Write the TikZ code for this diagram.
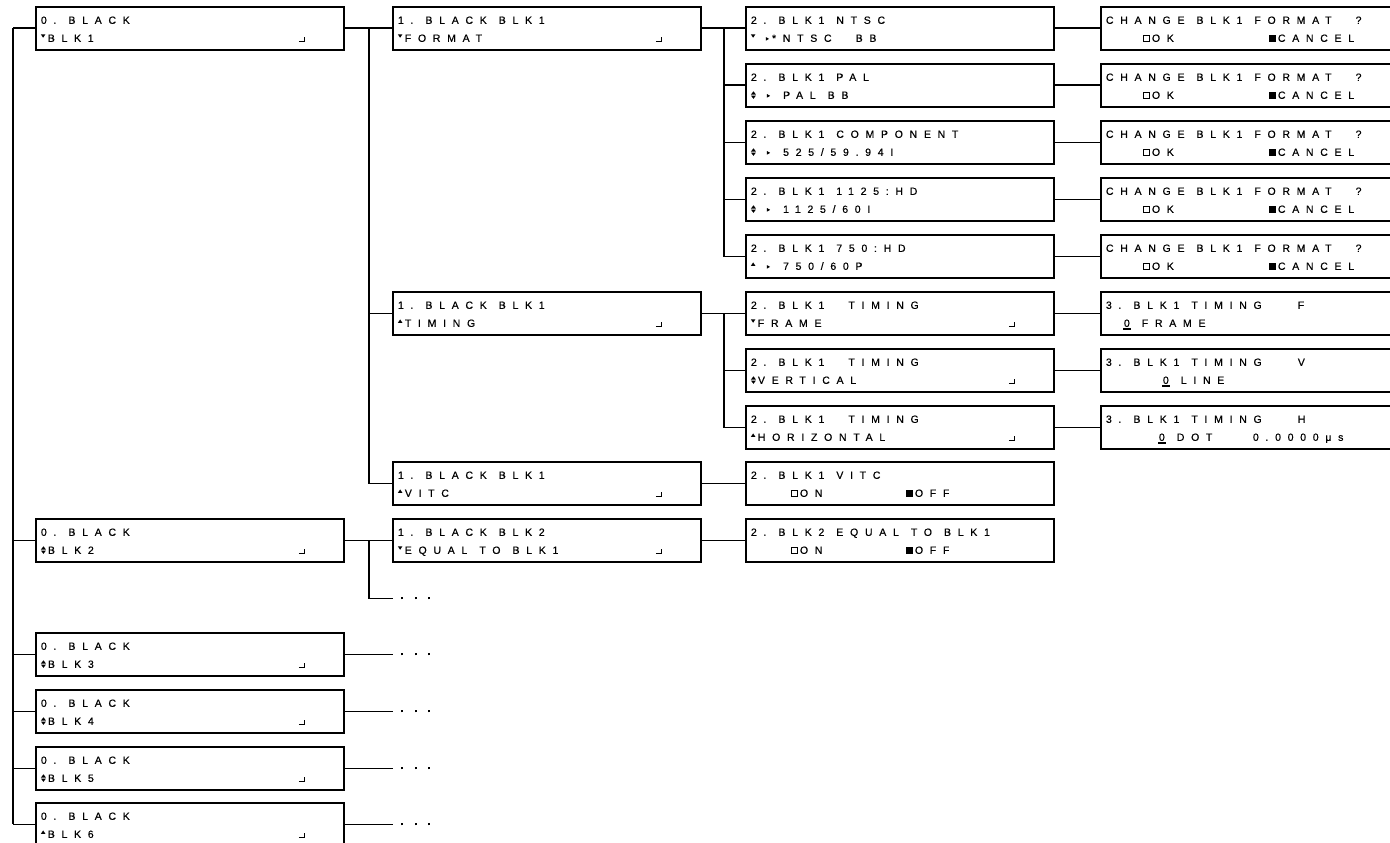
\documentclass[tikz,border=0pt]{standalone}
\usepackage{fontspec}
\setmainfont{Liberation Sans}
\newfontfamily\lcdfont[LetterSpace=64,WordSpace=1.25,FakeBold=0.5]{Liberation Sans}
\usetikzlibrary{positioning}
\frenchspacing

% small display marks
\newcommand\symdn{\tikz[baseline=0pt,x=1pt,y=1pt]{\useasboundingbox (0,0) rectangle (4.4,7.4); \fill (0,7.4) -- (4.4,7.4) -- (2.2,4.1) -- cycle;}\hspace{2.5pt}}
\newcommand\symup{\tikz[baseline=0pt,x=1pt,y=1pt]{\useasboundingbox (0,0) rectangle (4.4,7.4); \fill (0,4.1) -- (4.4,4.1) -- (2.2,7.4) -- cycle;}\hspace{2.5pt}}
\newcommand\symud{\tikz[baseline=0pt,x=1pt,y=1pt]{\useasboundingbox (0,0) rectangle (5,7.6); \fill (0,4.3) -- (5,4.3) -- (2.5,7.6) -- cycle; \fill (0,3.3) -- (5,3.3) -- (2.5,0) -- cycle;}\hspace{2pt}}
\newcommand\symrt{\tikz[baseline=0pt,x=1pt,y=1pt]{\useasboundingbox (0,0) rectangle (3.2,7); \fill (0,1.2) -- (0,4.8) -- (3.2,3) -- cycle;}}
\newcommand\boxon{\tikz[baseline=0pt,x=1pt,y=1pt]{\draw[line width=0.8pt] (0.4,0.4) rectangle (6.6,6.9);}\hspace{2pt}}
\newcommand\boxoff{\tikz[baseline=0pt,x=1pt,y=1pt]{\fill (0,0) rectangle (7,7.3);}\hspace{2pt}}
\newcommand\retmark{\rule{5pt}{1.1pt}\rule{1.1pt}{4.5pt}}
\newcommand\ulzero{\rlap{\hspace{-0.8pt}\rule[-2.8pt]{7.4pt}{1.5pt}}0}
\newcommand\entry[1]{\makebox[258pt][l]{#1}\retmark}
\newcommand\lcddots{\rule{2pt}{2pt}\hspace{11.5pt}\rule{2pt}{2pt}\hspace{11.5pt}\rule{2pt}{2pt}}
% two display lines in a 308 x 43 frame
\newcommand\lcd[2]{\vbox to 43pt{\baselineskip=18pt\lineskiplimit=-20pt\vskip 9.3pt
  \hbox to 308pt{\hskip 5pt\vrule height 7.6pt width 0pt\relax #1\hfil}
  \hbox to 308pt{\hskip 5pt\vrule height 7.6pt width 0pt\relax #2\hfil}\vss}}

\begin{document}
\begin{tikzpicture}[x=1pt,y=-1pt,
  lcdbox/.style={draw,line width=1.9pt,inner sep=0pt,anchor=north west,font=\lcdfont\fontsize{10.5}{18}\selectfont},
  conn/.style={line width=1.9pt},
  trunk/.style={line width=1.4pt},
  more/.style={inner xsep=8pt,inner ysep=0pt,anchor=west}]
  \useasboundingbox (0,0) rectangle (1390,843);
  \fill[white] (0,0) rectangle (1390,843);

  % level 0
  \node[lcdbox] (blk1) at (35,6) {\lcd{0. BLACK}{\entry{\symdn BLK1}}};
  \node[lcdbox] (blk2) at (35,518) {\lcd{0. BLACK}{\entry{\symud BLK2}}};
  \node[lcdbox] (blk3) at (35,632) {\lcd{0. BLACK}{\entry{\symud BLK3}}};
  \node[lcdbox] (blk4) at (35,689) {\lcd{0. BLACK}{\entry{\symud BLK4}}};
  \node[lcdbox] (blk5) at (35,746) {\lcd{0. BLACK}{\entry{\symud BLK5}}};
  \node[lcdbox] (blk6) at (35,802) {\lcd{0. BLACK}{\entry{\symup BLK6}}};

  % level 1
  \node[lcdbox] (fmt) at (392,6) {\lcd{1. BLACK BLK1}{\entry{\symdn FORMAT}}};
  \node[lcdbox] (tim) at (392,291) {\lcd{1. BLACK BLK1}{\entry{\symup TIMING}}};
  \node[lcdbox] (vitc) at (392,461) {\lcd{1. BLACK BLK1}{\entry{\symup VITC}}};
  \node[lcdbox] (equ) at (392,518) {\lcd{1. BLACK BLK2}{\entry{\symdn EQUAL TO BLK1}}};

  % level 2
  \node[lcdbox] (ntsc) at (745,6) {\lcd{2. BLK1 NTSC}{\symdn\hspace{8pt}\symrt\hspace{3pt}*NTSC\ \ BB}};
  \node[lcdbox] (pal) at (745,63) {\lcd{2. BLK1 PAL}{\symud\hspace{9pt}\symrt\hspace{13pt}PAL BB}};
  \node[lcdbox] (comp) at (745,120) {\lcd{2. BLK1 COMPONENT}{\symud\hspace{9pt}\symrt\hspace{13pt}525/59.94I}};
  \node[lcdbox] (hdi) at (745,177) {\lcd{2. BLK1 1125:HD}{\symud\hspace{9pt}\symrt\hspace{13pt}1125/60I}};
  \node[lcdbox] (hdp) at (745,234) {\lcd{2. BLK1 750:HD}{\symup\hspace{9pt}\symrt\hspace{13pt}750/60P}};
  \node[lcdbox] (frame) at (745,291) {\lcd{2. BLK1\ \ TIMING}{\entry{\symdn FRAME}}};
  \node[lcdbox] (vert) at (745,348) {\lcd{2. BLK1\ \ TIMING}{\entry{\symud VERTICAL}}};
  \node[lcdbox] (horiz) at (745,405) {\lcd{2. BLK1\ \ TIMING}{\entry{\symup HORIZONTAL}}};
  \node[lcdbox] (vitcsel) at (745,461) {\lcd{2. BLK1 VITC}{\hspace*{40pt}\makebox[115pt][l]{\boxon ON}\boxoff OFF}};
  \node[lcdbox] (equsel) at (745,518) {\lcd{2. BLK2 EQUAL TO BLK1}{\hspace*{40pt}\makebox[115pt][l]{\boxon ON}\boxoff OFF}};

  % level 3
  \foreach \src/\y in {ntsc/6,pal/63,comp/120,hdi/177,hdp/234}{
    \node[lcdbox] (chg\src) at (1100,\y) {\lcd{CHANGE BLK1 FORMAT\ \ ?}{\hspace*{37pt}\makebox[126pt][l]{\boxon OK}\boxoff CANCEL}};
    \draw[conn] (\src.east) -- (chg\src.west);
  }
  \node[lcdbox] (tfr) at (1100,291) {\lcd{3. BLK1 TIMING\ \ \ F}{\hspace*{18pt}\ulzero\ FRAME}};
  \node[lcdbox] (tvr) at (1100,348) {\lcd{3. BLK1 TIMING\ \ \ V}{\hspace*{57pt}\ulzero\ LINE}};
  \node[lcdbox] (thr) at (1100,405) {\lcd{3. BLK1 TIMING\ \ \ H}{\hspace*{53pt}\makebox[94pt][l]{\ulzero\ DOT}0.0000μs}};

  % continuation marks
  \node[more] (more2) at ([shift={(48pt,-58pt)}]blk2.east) {\lcddots};
  \foreach \b in {3,4,5,6}
    \node[more] (more\b) at ([xshift=48pt]blk\b.east) {\lcddots};

  % connectors
  \coordinate (tr) at ([xshift=-22pt]blk1.west);
  \draw[trunk] (tr) -- (tr |- blk6.west);
  \foreach \b in {blk1,blk2,blk3,blk4,blk5,blk6}
    \draw[conn] (\b.west) -- (tr |- \b.west);
  \coordinate (j1) at ([xshift=24pt]blk1.east);
  \draw[conn] (blk1.east) -- (fmt.west);
  \draw[conn] (j1) |- (tim.west);
  \draw[conn] (j1) |- (vitc.west);
  \coordinate (j2) at ([xshift=24pt]blk2.east);
  \draw[conn] (blk2.east) -- (equ.west);
  \draw[conn] (j2) |- (more2.west);
  \foreach \b in {3,4,5,6}
    \draw[conn] (blk\b.east) -- (more\b.west);
  \coordinate (j3) at ([xshift=22pt]fmt.east);
  \draw[conn] (fmt.east) -- (ntsc.west);
  \foreach \d in {pal,comp,hdi,hdp}
    \draw[conn] (j3) |- (\d.west);
  \coordinate (j4) at ([xshift=22pt]tim.east);
  \draw[conn] (tim.east) -- (frame.west);
  \draw[conn] (j4) |- (vert.west);
  \draw[conn] (j4) |- (horiz.west);
  \draw[conn] (vitc.east) -- (vitcsel.west);
  \draw[conn] (equ.east) -- (equsel.west);
  \draw[conn] (frame.east) -- (tfr.west);
  \draw[conn] (vert.east) -- (tvr.west);
  \draw[conn] (horiz.east) -- (thr.west);
\end{tikzpicture}
\end{document}
